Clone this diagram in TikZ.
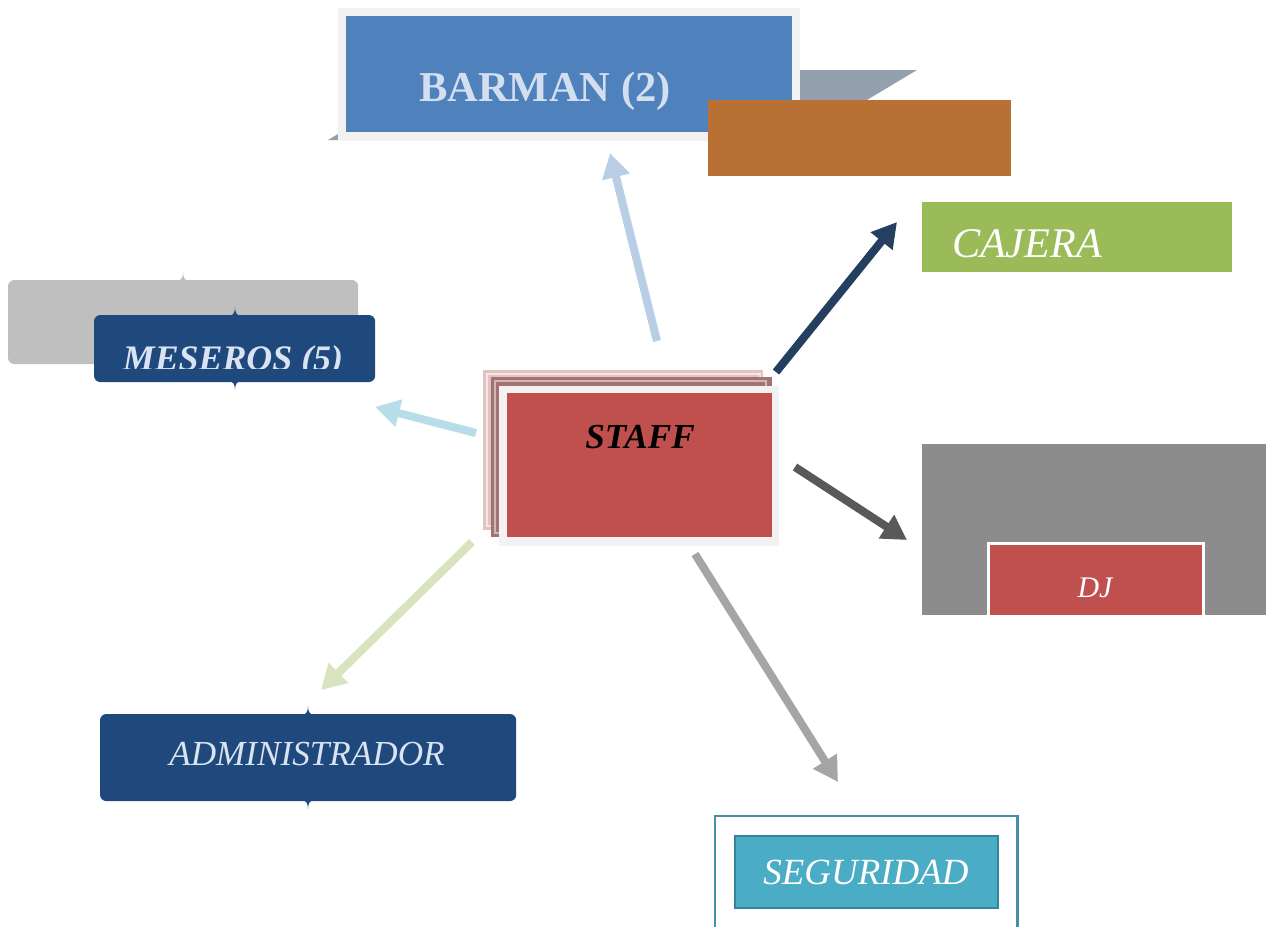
\documentclass[tikz,border=0pt]{standalone}
\usepackage{fontspec}
\setmainfont{Liberation Serif}
\usetikzlibrary{arrows.meta}
\definecolor{barblue}{HTML}{4F81BD}
\definecolor{bartext}{HTML}{D3DEEE}
\definecolor{framegrey}{HTML}{F2F2F2}
\definecolor{shadowgrey}{HTML}{95A0AE}
\definecolor{brown}{HTML}{B87034}
\definecolor{cajgreen}{HTML}{9BBB59}
\definecolor{navy}{HTML}{1F497D}
\definecolor{navytext}{HTML}{D9E3F1}
\definecolor{lightgrey}{HTML}{BFBFBF}
\definecolor{staffred}{HTML}{C0504D}
\definecolor{staffpink}{HTML}{E3C2C2}
\definecolor{staffdark}{HTML}{A47272}
\definecolor{djgrey}{HTML}{8C8C8C}
\definecolor{segfill}{HTML}{4BACC6}
\definecolor{segline}{HTML}{31849B}
\definecolor{arrbar}{HTML}{B9CDE5}
\definecolor{arrcaj}{HTML}{243F60}
\definecolor{arrmes}{HTML}{B7DDE8}
\definecolor{arrdj}{HTML}{595959}
\definecolor{arrseg}{HTML}{A5A5A5}
\definecolor{arradm}{HTML}{D7E4BD}
\tikzset{
  blk/.style={inner sep=0pt,outer sep=0pt,anchor=north west},
  txt/.style={inner sep=0pt,outer sep=0pt},
  lnk/.style={line width=2.3pt,-{Triangle[length=7pt,width=7.6pt]}},
}
\newcommand{\bracetip}[3]{\fill[#1,shift={(#2)},yscale=#3] (-7,1) .. controls (-2,1) and (0,-2) .. (0,-8) .. controls (0,-2) and (2,1) .. (7,1) -- cycle;}

\begin{document}
\begin{tikzpicture}[x=0.01cm,y=-0.01cm]
\useasboundingbox (0,0) rectangle (1266,926);
% barman
\fill[shadowgrey] (328,140) -- (445,70) -- (917,70) -- (800,140) -- cycle;
\node[blk,fill=framegrey,minimum width=4.62cm,minimum height=1.32cm] (barman-frame) at (338,8) {};
\node[blk,fill=barblue,minimum width=4.46cm,minimum height=1.16cm] (barman) at (346,16) {};
\node[txt,text=bartext] (barman-txt) at (545,91) {\fontsize{12.1pt}{14pt}\selectfont\bfseries BARMAN (2)};
\node[blk,fill=brown,minimum width=3.03cm,minimum height=0.76cm] (brown-box) at (708,100) {};
% cajera
\node[blk,fill=cajgreen,minimum width=3.1cm,minimum height=0.7cm] (cajera) at (922,202) {};
\node[txt,text=white] (cajera-txt) at (1027,244) {\fontsize{12pt}{14pt}\selectfont\itshape CAJERA};
% meseros
\node[blk,fill=lightgrey,rounded corners=1.8pt,minimum width=3.5cm,minimum height=0.84cm] (meseros-bg) at (8,280) {};
\bracetip{lightgrey}{183,280}{1}
\node[blk,fill=navy,rounded corners=1.8pt,minimum width=2.81cm,minimum height=0.67cm] (meseros) at (94,315) {};
\bracetip{navy}{235,315}{1}
\bracetip{navy}{235,382}{-1}
\begin{scope}
\clip (94,300) rectangle (375,368);
\node[txt,text=navytext,anchor=base] (meseros-txt) at (233,370) {\fontsize{10.2pt}{12pt}\selectfont\bfseries\itshape MESEROS (5)};
\end{scope}
% staff
\node[blk,fill=staffpink,minimum width=2.8cm,minimum height=1.6cm] (staff-back) at (483,370) {};
\draw[white,opacity=0.6,line width=0.3pt] (487,374) rectangle (760,526);
\node[blk,fill=staffdark,minimum width=2.81cm,minimum height=1.6cm] (staff-mid) at (491,377) {};
\draw[white,opacity=0.5,line width=0.3pt] (495,381) rectangle (766,533);
\node[blk,fill=framegrey,minimum width=2.8cm,minimum height=1.6cm] (staff-frame) at (499,386) {};
\node[blk,fill=staffred,minimum width=2.65cm,minimum height=1.44cm] (staff) at (507,393) {};
\node[txt] (staff-txt) at (640,437) {\fontsize{10pt}{12pt}\selectfont\bfseries\itshape STAFF};
% dj
\node[blk,fill=djgrey,minimum width=3.44cm,minimum height=1.71cm] (dj-bg) at (922,444) {};
\node[blk,fill=white,minimum width=2.18cm,minimum height=0.73cm] (dj-frame) at (987,542) {};
\node[blk,fill=staffred,minimum width=2.12cm,minimum height=0.7cm] (dj) at (990,545) {};
\node[txt,text=white] (dj-txt) at (1095,588) {\fontsize{8.5pt}{10pt}\selectfont\itshape DJ};
% administrador
\node[blk,fill=navy,rounded corners=1.8pt,minimum width=4.16cm,minimum height=0.87cm] (admin) at (100,714) {};
\bracetip{navy}{308,714}{1}
\bracetip{navy}{308,801}{-1}
\node[txt,text=navytext] (admin-txt) at (307,754) {\fontsize{10pt}{12pt}\selectfont\itshape ADMINISTRADOR};
% seguridad
\node[blk,draw=segline!90!white,line width=0.75pt,minimum width=3.02cm,minimum height=1.3cm] (seg-frame) at (715,816) {};
\node[blk,fill=segfill,draw=segline,line width=0.5pt,minimum width=2.63cm,minimum height=0.72cm] (seguridad) at (735,836) {};
\node[txt,text=white] (seg-txt) at (866,872) {\fontsize{10.5pt}{12pt}\selectfont\itshape SEGURIDAD};
% arrows
\coordinate (a-bar) at (657,341);  \coordinate (b-bar) at (610,153);
\coordinate (a-caj) at (776,372);  \coordinate (b-caj) at (897,222);
\coordinate (a-mes) at (476,433);  \coordinate (b-mes) at (375,407);
\coordinate (a-dj) at (795,467);   \coordinate (b-dj) at (907,540);
\coordinate (a-seg) at (695,554);  \coordinate (b-seg) at (838,782);
\coordinate (a-adm) at (472,542);  \coordinate (b-adm) at (321,690);
\draw[lnk,arrbar] (a-bar) -- (b-bar);
\draw[lnk,arrcaj] (a-caj) -- (b-caj);
\draw[lnk,arrmes] (a-mes) -- (b-mes);
\draw[lnk,arrdj] (a-dj) -- (b-dj);
\draw[lnk,arrseg] (a-seg) -- (b-seg);
\draw[lnk,arradm] (a-adm) -- (b-adm);
\end{tikzpicture}
\end{document}
